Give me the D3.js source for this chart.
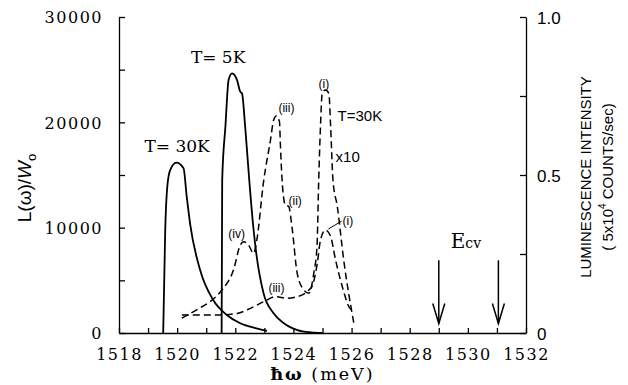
<!DOCTYPE html>
<html>
<head>
<meta charset="utf-8">
<script src="https://cdn.jsdelivr.net/npm/d3@7"></script>
<style>
  body { margin: 0; background: #fff; }
  svg { display: block; }
  .axis path, .axis line { stroke: #000; stroke-width: 1.3; }
  .tick-l text, .tick-b text { font-family: "DejaVu Serif", serif; fill: #000; }
  .tick-r text { font-family: "Liberation Sans", Arial, sans-serif; fill: #000; }
</style>
</head>
<body>
<svg id="chart" width="628" height="385"></svg>
<script>
// Solid curves, left axis L(w)/W0
const t30E = [1519.52, 1519.59, 1519.66, 1519.76, 1519.97, 1520.22, 1520.33, 1520.45, 1520.79, 1521.24, 1521.71, 1522.17, 1522.69, 1523.09];
const t30L = [0, 9780, 13860, 15470, 16170, 15640, 12940, 10300, 5980, 3130, 1710, 920, 470, 200];

const t5E = [1521.53, 1521.55, 1521.66, 1521.77, 1521.89, 1522.06, 1522.17, 1522.23, 1522.34, 1522.48, 1522.62, 1522.72, 1522.97, 1523.31, 1523.66, 1524.14, 1524.6, 1525.0];
const t5L = [0, 14530, 19590, 24020, 24650, 24020, 22910, 22760, 19590, 14530, 10060, 7600, 3800, 1900, 950, 280, 60, 0];

// Dashed curves, right axis luminescence intensity
const lumAE = [1520.16, 1520.7, 1521.2, 1521.54, 1521.94, 1522.17, 1522.29, 1522.46, 1522.63, 1522.74, 1522.98, 1523.21, 1523.32, 1523.41, 1523.52, 1523.55, 1523.61, 1523.72, 1523.84, 1523.95, 1524.13, 1524.36, 1524.53, 1524.7, 1524.81, 1524.87, 1524.93, 1524.99, 1525.1, 1525.22, 1525.28, 1525.36, 1525.51, 1525.73, 1526.08];
const lumAI = [0.047, 0.075, 0.104, 0.136, 0.2, 0.278, 0.289, 0.278, 0.252, 0.294, 0.484, 0.61, 0.674, 0.687, 0.669, 0.6, 0.484, 0.405, 0.4, 0.336, 0.189, 0.136, 0.126, 0.189, 0.273, 0.484, 0.653, 0.758, 0.769, 0.758, 0.653, 0.484, 0.4, 0.231, 0.03];

const lumBE = [1520.16, 1520.8, 1521.45, 1522.06, 1522.52, 1523.0, 1523.38, 1523.78, 1524.13, 1524.41, 1524.53, 1524.64, 1524.82, 1524.93, 1525.1, 1525.28, 1525.45, 1525.68, 1525.91, 1526.05];
const lumBI = [0.057, 0.057, 0.057, 0.062, 0.078, 0.1, 0.115, 0.11, 0.115, 0.126, 0.136, 0.147, 0.22, 0.294, 0.326, 0.305, 0.231, 0.147, 0.083, 0.07];

// Ticks
const xTicks = d3.range(1518, 1533, 1);
const xLabels = [1518, 1520, 1522, 1524, 1526, 1528, 1530, 1532];
const leftTicks = [0, 5000, 10000, 15000, 20000, 25000, 30000];
const leftLabels = [0, 10000, 20000, 30000];
const rightTicks = [0, 0.25, 0.5, 0.75, 1];
const rightLabels = { 0: "0", 0.5: "0.5", 1: "1.0" };
const ecvArrows = [1529.0, 1531.05];

const svg = d3.select("#chart");
const margins = { top: 17, right: 102, bottom: 52, left: 119 };
const width = +svg.attr("width");
const height = +svg.attr("height");

const x = d3.scaleLinear().domain([1518, 1532]).range([margins.left, width - margins.right]);
const yL = d3.scaleLinear().domain([0, 30000]).range([height - margins.bottom, margins.top]);
const yR = d3.scaleLinear().domain([0, 1]).range([height - margins.bottom, margins.top]);

// Axes
const xAxis = svg.append("g")
  .attr("class", "axis tick-b")
  .attr("transform", `translate(0, ${yL(0)})`)
  .call(d3.axisBottom(x).tickValues(xTicks).tickSizeInner(-5).tickSizeOuter(0)
    .tickFormat(d => xLabels.includes(d) ? d : ""));
xAxis.selectAll("text").attr("y", 26.5).attr("dy", 0)
  .style("font-size", "16px").style("letter-spacing", "1.5px");

const leftAxis = svg.append("g")
  .attr("class", "axis tick-l")
  .attr("transform", `translate(${x(1518)}, 0)`)
  .call(d3.axisLeft(yL).tickValues(leftTicks).tickSizeInner(-6).tickSizeOuter(0)
    .tickFormat(d => leftLabels.includes(d) ? d : ""));
leftAxis.selectAll("text").attr("x", -16).attr("dy", "0.36em")
  .style("font-size", "16px").style("letter-spacing", "1.5px");

const rightAxis = svg.append("g")
  .attr("class", "axis tick-r")
  .attr("transform", `translate(${x(1532)}, 0)`)
  .call(d3.axisRight(yR).tickValues(rightTicks).tickSizeInner(-6).tickSizeOuter(0)
    .tickFormat(d => rightLabels[d] || ""));
rightAxis.selectAll("text").attr("x", 11).attr("dy", "0.36em").style("font-size", "17px");

// Curves
const lineL = d3.line().x(d => x(d[0])).y(d => yL(d[1])).curve(d3.curveMonotoneX);
const lineR = d3.line().x(d => x(d[0])).y(d => yR(d[1])).curve(d3.curveMonotoneX);

svg.append("path").datum(d3.zip(t30E, t30L)).attr("d", lineL)
  .attr("fill", "none").attr("stroke", "#000").attr("stroke-width", 1.8);
svg.append("path").datum(d3.zip(t5E, t5L)).attr("d", lineL)
  .attr("fill", "none").attr("stroke", "#000").attr("stroke-width", 1.8);

svg.append("path").datum(d3.zip(lumAE, lumAI)).attr("d", lineR)
  .attr("fill", "none").attr("stroke", "#000").attr("stroke-width", 1.5)
  .attr("stroke-dasharray", "7,4");
svg.append("path").datum(d3.zip(lumBE, lumBI)).attr("d", lineR)
  .attr("fill", "none").attr("stroke", "#000").attr("stroke-width", 1.5)
  .attr("stroke-dasharray", "7,4");

// E_cv arrows
ecvArrows.forEach(e => {
  const ax = x(e), top = yR(0.23), tip = yR(0.03);
  svg.append("line").attr("x1", ax).attr("x2", ax).attr("y1", top).attr("y2", tip)
    .attr("stroke", "#000").attr("stroke-width", 1.5);
  svg.append("path")
    .attr("d", `M${ax - 6},${tip - 20}L${ax},${tip}L${ax + 6},${tip - 20}`)
    .attr("fill", "none").attr("stroke", "#000").attr("stroke-width", 1.5);
});

// Annotations
const serif = "'DejaVu Serif', serif";
const sans = "'Liberation Sans', Arial, sans-serif";
function note(txt, px, py, opts = {}) {
  return svg.append("text").attr("x", px).attr("y", py)
    .attr("text-anchor", opts.anchor || "start")
    .style("font-family", opts.font || sans)
    .style("font-size", (opts.size || 12) + "px")
    .text(txt);
}
note("T= 5K", x(1521.41), yL(25630), { anchor: "middle", font: serif, size: 17 });
note("T= 30K", x(1520.0), yL(17180), { anchor: "middle", font: serif, size: 17 });
note("(iii)", x(1523.76), yR(0.699), { anchor: "middle" });
note("(i)", x(1525.05), yR(0.775), { anchor: "middle" });
note("T=30K", x(1525.52), yR(0.671), { size: 15 });
note("x10", x(1525.45), yR(0.541), { size: 15 });
note("(ii)", x(1523.83), yR(0.405));
note("(i)", x(1525.69), yR(0.342));
note("(iv)", x(1521.76), yR(0.301));
note("(iii)", x(1523.14), yR(0.13));
svg.append("line")
  .attr("x1", x(1525.2)).attr("y1", yR(0.329))
  .attr("x2", x(1525.66)).attr("y2", yR(0.354))
  .attr("stroke", "#000").attr("stroke-width", 1);

const ecv = svg.append("text").attr("x", x(1529.41)).attr("y", yR(0.269))
  .style("font-family", serif).style("font-size", "20px");
ecv.append("tspan").text("E");
ecv.append("tspan").style("font-size", "14px").text("cv");

// Axis titles
svg.append("text")
  .attr("x", (x(1518) + x(1532)) / 2).attr("y", 380)
  .attr("text-anchor", "middle")
  .style("font-family", serif).style("font-size", "17.5px").style("letter-spacing", "2px")
  .html('<tspan font-weight="bold">ħω</tspan> (meV)');

const yTitle = svg.append("text")
  .attr("transform", "translate(31, 188) rotate(-90)")
  .attr("text-anchor", "middle")
  .style("font-family", sans).style("font-size", "19px");
yTitle.append("tspan").text("L(ω)/");
yTitle.append("tspan").style("font-style", "italic").text("W");
yTitle.append("tspan").attr("dy", 5).style("font-size", "13px").text("o");

svg.append("text")
  .attr("transform", "translate(591, 177) rotate(-90)")
  .attr("text-anchor", "middle")
  .style("font-family", sans).style("font-size", "15px")
  .text("LUMINESCENCE INTENSITY");

const unitTitle = svg.append("text")
  .attr("transform", "translate(613, 177) rotate(-90)")
  .attr("text-anchor", "middle")
  .style("font-family", sans).style("font-size", "15px");
unitTitle.append("tspan").text("( 5x10");
unitTitle.append("tspan").attr("dy", -7).style("font-size", "10px").text("4");
unitTitle.append("tspan").attr("dy", 7).text(" COUNTS/sec)");
</script>
</body>
</html>
